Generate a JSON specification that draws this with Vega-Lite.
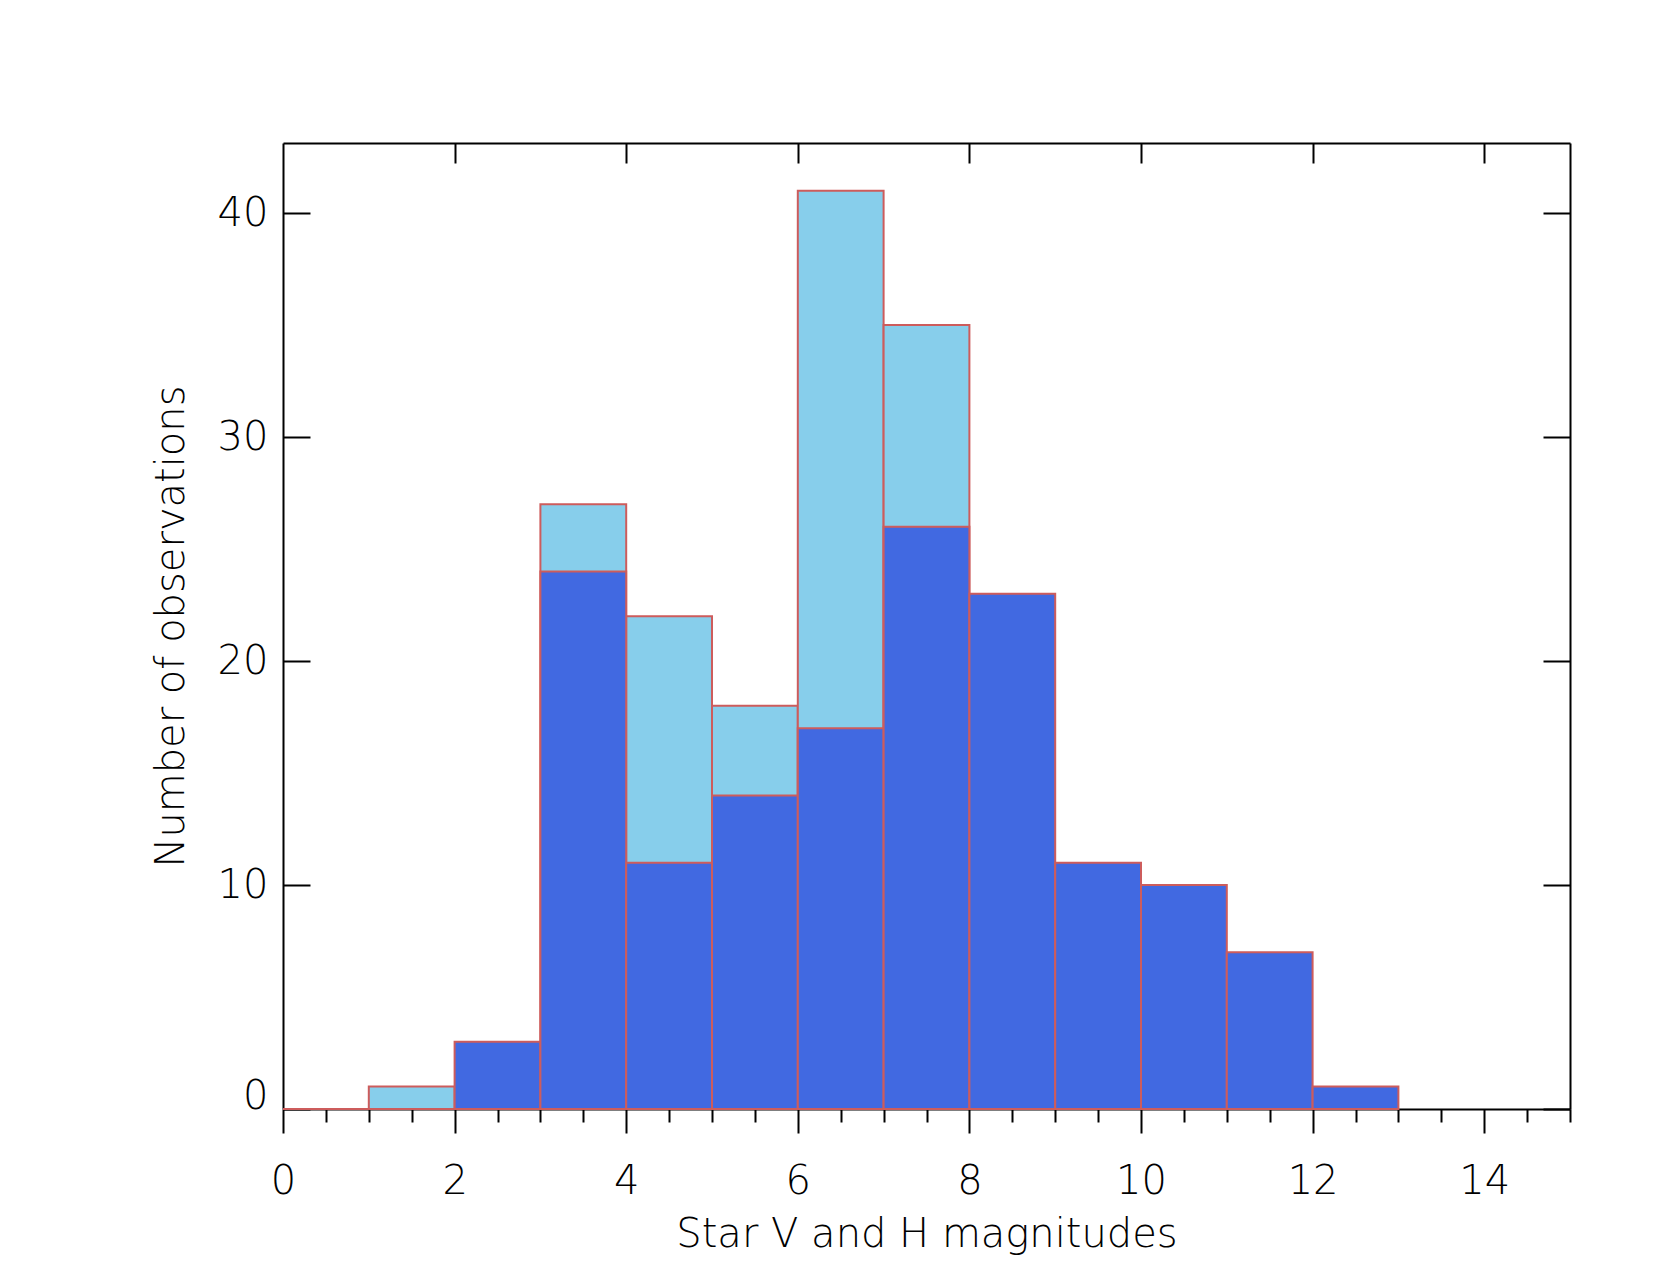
{
  "$schema": "https://vega.github.io/schema/vega-lite/v6.json",
  "autosize": {"type": "none"},
  "padding": {"left": 283, "top": 143, "right": 106, "bottom": 157},
  "width": 1287,
  "height": 966,
  "background": "white",
  "config": {
    "view": {"stroke": null},
    "axis": {
      "grid": false,
      "domainColor": "black",
      "domainWidth": 2,
      "tickColor": "black",
      "tickWidth": 2,
      "labelFont": "DejaVu Sans",
      "labelFontWeight": 200,
      "labelFontSize": 40,
      "labelColor": "black",
      "labelOverlap": false,
      "titleFont": "DejaVu Sans",
      "titleFontWeight": 200,
      "titleFontSize": 40,
      "titleColor": "black"
    }
  },
  "data": {
    "values": [
      {"band": "V", "lo": 0, "hi": 1, "count": 0},
      {"band": "V", "lo": 1, "hi": 2, "count": 1},
      {"band": "V", "lo": 3, "hi": 4, "count": 27},
      {"band": "V", "lo": 4, "hi": 5, "count": 22},
      {"band": "V", "lo": 5, "hi": 6, "count": 18},
      {"band": "V", "lo": 6, "hi": 7, "count": 41},
      {"band": "V", "lo": 7, "hi": 8, "count": 35},
      {"band": "H", "lo": 2, "hi": 3, "count": 3},
      {"band": "H", "lo": 3, "hi": 4, "count": 24},
      {"band": "H", "lo": 4, "hi": 5, "count": 11},
      {"band": "H", "lo": 5, "hi": 6, "count": 14},
      {"band": "H", "lo": 6, "hi": 7, "count": 17},
      {"band": "H", "lo": 7, "hi": 8, "count": 26},
      {"band": "H", "lo": 8, "hi": 9, "count": 23},
      {"band": "H", "lo": 9, "hi": 10, "count": 11},
      {"band": "H", "lo": 10, "hi": 11, "count": 10},
      {"band": "H", "lo": 11, "hi": 12, "count": 7},
      {"band": "H", "lo": 12, "hi": 13, "count": 1}
    ]
  },
  "layer": [
    {
      "transform": [{"filter": "datum.band === 'V'"}],
      "mark": {"type": "rect", "stroke": "#CD5C5C", "strokeWidth": 2},
      "encoding": {
        "x": {
          "field": "lo", "type": "quantitative",
          "scale": {"domain": [0, 15], "nice": false, "zero": false},
          "axis": {
            "orient": "bottom",
            "values": [0, 0.5, 1, 1.5, 2, 2.5, 3, 3.5, 4, 4.5, 5, 5.5, 6, 6.5, 7, 7.5, 8, 8.5, 9, 9.5, 10, 10.5, 11, 11.5, 12, 12.5, 13, 13.5, 14, 14.5, 15],
            "tickSize": {"condition": {"test": "datum.value % 2 === 0", "value": 24}, "value": 13},
            "labelExpr": "datum.value % 2 === 0 && datum.value < 15 ? format(datum.value, 'd') : ''",
            "labelFlush": false,
            "labelPadding": 28,
            "title": "Star V and H magnitudes",
            "titleX": 643.5,
            "titleY": 137,
            "titleBaseline": "alphabetic"
          }
        },
        "x2": {"field": "hi"},
        "y": {
          "field": "count", "type": "quantitative",
          "scale": {"domain": [0, 43.13], "nice": false},
          "axis": {
            "orient": "left",
            "values": [0, 10, 20, 30, 40],
            "format": "d",
            "tickSize": -27,
            "labelPadding": 42,
            "labelFlush": false,
            "labelOffset": {"condition": {"test": "datum.value === 0", "value": -13}, "value": 0},
            "title": "Number of observations",
            "titleX": -100,
            "titleY": 483,
            "titleAngle": -90,
            "titleBaseline": "alphabetic"
          }
        },
        "y2": {"datum": 0},
        "fill": {"field": "band", "type": "nominal", "scale": {"domain": ["V", "H"], "range": ["#87CEEB", "#4169E1"]}, "legend": null}
      }
    },
    {
      "transform": [{"filter": "datum.band === 'H'"}],
      "mark": {"type": "rect", "stroke": "#CD5C5C", "strokeWidth": 2},
      "encoding": {
        "x": {
          "field": "lo", "type": "quantitative",
          "scale": {"domain": [0, 15], "nice": false, "zero": false},
          "axis": {"orient": "top", "values": [2, 4, 6, 8, 10, 12, 14], "tickSize": -20, "labels": false, "title": null}
        },
        "x2": {"field": "hi"},
        "y": {
          "field": "count", "type": "quantitative",
          "scale": {"domain": [0, 43.13], "nice": false},
          "axis": {"orient": "right", "values": [0, 10, 20, 30, 40], "tickSize": -27, "labels": false, "title": null}
        },
        "y2": {"datum": 0},
        "fill": {"field": "band", "type": "nominal", "scale": {"domain": ["V", "H"], "range": ["#87CEEB", "#4169E1"]}, "legend": null}
      }
    }
  ],
  "resolve": {"axis": {"x": "independent", "y": "independent"}}
}
